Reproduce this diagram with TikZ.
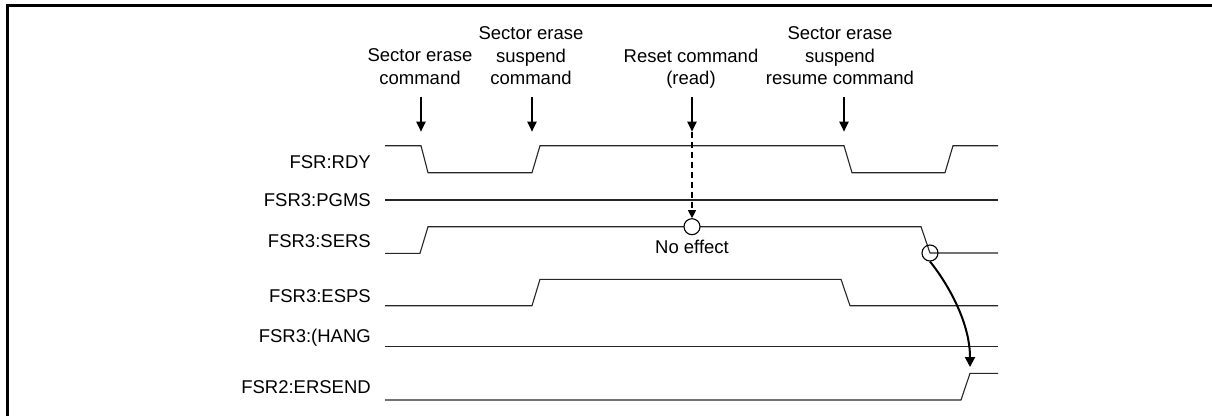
\documentclass[tikz,border=0pt]{standalone}
\usepackage{fontspec}
\setmainfont{Liberation Sans}
\usetikzlibrary{arrows.meta}
\begin{document}
\begin{tikzpicture}[x=1bp,y=-1bp,
  sig/.style={line width=1.1bp, color=black!85},
  lbl/.style={font=\fontsize{18.5bp}{22.5bp}\selectfont, inner sep=0pt, text height=13.2bp, text depth=0pt},
  toplbl/.style={font=\fontsize{18.5bp}{22.5bp}\selectfont, inner sep=0pt, align=center, anchor=north},
  cmdarrow/.style={line width=2bp, -{Triangle[length=10bp,width=9bp]}},
  ring/.style={circle, draw, line width=1.1bp, minimum size=16bp, inner sep=0pt},
  frameline/.style={line width=3.5bp, line join=miter}
]
\useasboundingbox (0,0) rectangle (1212,416);
% frame
\draw[frameline] (7.5,416) -- (7.5,5.5) -- (1212,5.5);

% top labels
\node[toplbl] (t1) at (420,48.4) {Sector erase\\command};
\node[toplbl] (t2) at (531,26.4) {Sector erase\\suspend\\command};
\node[toplbl] (t3) at (691,48.4) {Reset command\\(read)};
\node[toplbl] (t4) at (840,26.4) {Sector erase\\suspend\\resume command};

% command arrows
\coordinate (a1s) at (421,96.7); \coordinate (a1e) at (421,131.7);
\coordinate (a2s) at (532,96.7); \coordinate (a2e) at (532,131.7);
\coordinate (a3s) at (692,96.7); \coordinate (a3e) at (692,131.7);
\coordinate (a4s) at (844,96.7); \coordinate (a4e) at (844,131.7);
\draw[cmdarrow] (a1s) -- (a1e);
\draw[cmdarrow] (a2s) -- (a2e);
\draw[cmdarrow] (a3s) -- (a3e);
\draw[cmdarrow] (a4s) -- (a4e);

% signal labels
\node[lbl, anchor=east] (l1) at (371,161.7) {FSR:RDY};
\node[lbl, anchor=east] (l2) at (371,200) {FSR3:PGMS};
\node[lbl, anchor=east] (l3) at (371,241) {FSR3:SERS};
\node[lbl, anchor=east] (l4) at (371,296) {FSR3:ESPS};
\node[lbl, anchor=east] (l5) at (371,336) {FSR3:(HANG};
\node[lbl, anchor=east] (l6) at (371,386.7) {FSR2:ERSEND};

% waveforms
\draw[sig] (385,145.7) -- (421,145.7) -- (428,172.7) -- (532,172.7) -- (540,145.7)
  -- (844,145.7) -- (852,172.7) -- (945,172.7) -- (953,145.7) -- (998,145.7);
\draw[sig] (385,200) -- (998,200);
\draw[sig] (385,253.3) -- (420,253.3) -- (428,226.7) -- (921,226.7) -- (930,253) -- (998,253);
\draw[sig] (385,305.7) -- (532,305.7) -- (540,279.3) -- (841,279.3) -- (850,305.7) -- (998,305.7);
\draw[sig] (385,346.7) -- (998,346.7);
\draw[sig] (385,400) -- (961,400) -- (970,373.3) -- (998,373.3);

% markers
\node[ring, fill=white] (c1) at (692,226.7) {};
\node[ring] (c2) at (930,253) {};
\node[lbl] (ne) at (692,246.7) {No effect};

% reset dashed arrow
\draw[line width=1.1bp, dashed, dash pattern=on 6bp off 4bp, -{Triangle[length=8bp,width=8bp]}] (a3e) -- (c1.north);

% curved arrow
\coordinate (ce) at (970,367);
\draw[line width=2bp, -{Triangle[length=10bp,width=10bp]}] (c2.south) .. controls (945,280) and (970,320) .. (ce);
\end{tikzpicture}
\end{document}
